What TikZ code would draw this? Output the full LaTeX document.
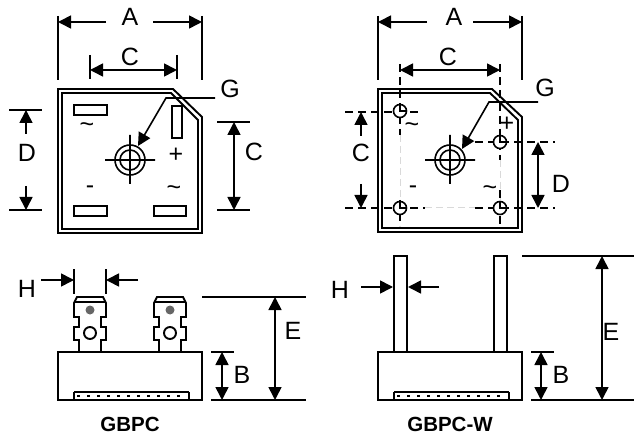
\documentclass[tikz,border=0pt]{standalone}
\usepackage{fontspec}
\setmainfont{Liberation Sans}
\usetikzlibrary{arrows.meta}
\tikzset{
    outline/.style={line width=1.9pt, line join=miter},
    dim/.style={line width=1.6pt},
    dimarrow/.style={dim, {Triangle[length=13pt,width=13pt]}-{Triangle[length=13pt,width=13pt]}},
    dimtip/.style={dim, -{Triangle[length=13pt,width=13pt]}},
    centerline/.style={dim, dash pattern=on 8pt off 5pt},
    faintline/.style={line width=1pt, gray!30, dash pattern=on 7pt off 4pt},
    label/.style={font=\fontsize{25}{25}\selectfont, inner sep=0pt},
    caption/.style={font=\fontsize{20.5}{20.5}\selectfont\bfseries, inner sep=0pt}
}
\begin{document}
\begin{tikzpicture}[x=1pt, y=-1pt]
    \useasboundingbox (0,0) rectangle (634,438);

    % top views
    \draw [outline] (58,89) -- (173,89) -- (202,117) -- (202,233) -- (58,233) -- cycle
        (62,93) -- (171,93) -- (198,120) -- (198,229) -- (62,229) -- cycle;
    \draw [outline] (378,89) -- (492,89) -- (522,117) -- (522,232) -- (378,232) -- cycle
        (382,93) -- (490,93) -- (518,120) -- (518,228) -- (382,228) -- cycle;
    % centre holes
    \foreach \cx in {130,450} {
        \draw [dim] (\cx,160) circle (15) (\cx,160) circle (10)
            (\cx-25,160) -- (\cx+25,160)
            (\cx,135) -- (\cx,184);
    }
    % flat terminals
    \draw [dim] (74,105) rectangle (107,115)
        (172,106) rectangle (182,138)
        (74,206) rectangle (107,216)
        (154,206) rectangle (186,216);
    \node [label] (acleft) at (87,128) {\char`\~};
    \node [label] (plusleft) at (176,155) {+};
    \node [label] (minusleft) at (90,190) {-};
    \node [label] (acright) at (174,191) {\char`\~};

    % wire holes
    \draw [faintline] (400,135) -- (400,200) (500,160) -- (500,200) (425,208) -- (475,208);
    \draw [centerline] (400,64) -- (400,135) (400,200) -- (400,226)
        (500,64) -- (500,160) (500,190) -- (500,226)
        (345,112) -- (421,112)
        (475,142) -- (555,142)
        (345,208) -- (425,208) (475,208) -- (555,208);
    \foreach \hx/\hy in {400/111, 500/142, 400/208, 500/208} {
        \draw [dim, fill=white] (\hx,\hy) circle (6.5);
        \draw [dim] (\hx,\hy-6) -- (\hx,\hy) -- (\hx+6,\hy);
    }
    \node [label] (acwleft) at (412,128) {\char`\~};
    \node [label] (pluswire) at (507,124) {+};
    \node [label] (minuswire) at (413,190) {-};
    \node [label] (acwright) at (490,191) {\char`\~};

    % dimensions of the left top view
    \draw [dim] (58,16) -- (58,80) (202,16) -- (202,80)
        (90,55) -- (90,79) (177,55) -- (177,79)
        (9,110) -- (42,110) (9,210) -- (42,210)
        (217,122) -- (250,122) (217,210) -- (250,210);
    \draw [dimtip] (106,22) -- (58,22);
    \draw [dimtip] (153,22) -- (202,22);
    \draw [dimarrow] (90,70) -- (177,70);
    \draw [dimtip] (26,134) -- (26,110);
    \draw [dimtip] (26,186) -- (26,210);
    \draw [dimarrow] (234,122) -- (234,210);
    \node [label] (topa) at (130,17) {A};
    \node [label] (topc) at (130,57) {C};
    \node [label] (topg) at (230,89) {G};
    \node [label] (topd) at (27,153) {D};
    \node [label] (sidec) at (254,152) {C};
    \draw [dimtip] (215,98) -- (166,98) -- (138,146);

    % dimensions of the right top view
    \draw [dim] (378,16) -- (378,80) (522,16) -- (522,80);
    \draw [dimtip] (427,22) -- (378,22);
    \draw [dimtip] (473,22) -- (522,22);
    \draw [dimarrow] (400,70) -- (500,70);
    \draw [dimtip] (361,136) -- (361,112);
    \draw [dimtip] (361,184) -- (361,208);
    \draw [dimarrow] (538,142) -- (538,208);
    \node [label] (wirea) at (454,17) {A};
    \node [label] (wirec) at (448,57) {C};
    \node [label] (wireg) at (545,88) {G};
    \node [label] (wired) at (361,153) {C};
    \node [label] (sided) at (561,184) {D};
    \draw [dimtip] (538,102) -- (489,102) -- (462,149);

    % side views
    \foreach \bx in {58,378} {
        \draw [outline] (\bx,352) rectangle (\bx+144,400);
        \draw [line width=2.4pt] (\bx+16,392) -- (\bx+131,392);
        \draw [dim] (\bx+16,392) -- (\bx+16,400) (\bx+131,392) -- (\bx+131,400);
        \draw [line width=2pt, dash pattern=on 3pt off 7pt] (\bx+19,395.5) -- (\bx+129,395.5);
    }
    % blade terminals
    \foreach \tx in {74,154} {
        \draw [outline] (\tx+5,352) -- (\tx+5,340) -- (\tx,340) -- (\tx,327) -- (\tx+5,327)
            -- (\tx+5,317) -- (\tx,317) -- (\tx,303) -- (\tx+3,297) -- (\tx+29,297) -- (\tx+32,303)
            -- (\tx+32,317) -- (\tx+27,317) -- (\tx+27,327) -- (\tx+32,327) -- (\tx+32,340)
            -- (\tx+27,340) -- (\tx+27,352)
            (\tx+1,302) -- (\tx+31,302);
        \fill [gray!80!black] (\tx+16,310) circle (4.5);
        \draw [outline] (\tx+16,333) circle (6);
    }
    % straight leads
    \draw [outline] (394,352) -- (394,256) -- (407,256) -- (407,352)
        (494,352) -- (494,256) -- (507,256) -- (507,352);

    % dimensions of the left side view
    \draw [dim] (74,269) -- (74,294) (106,269) -- (106,294)
        (202,297) -- (306,297)
        (211,400) -- (306,400)
        (211,352) -- (234,352);
    \draw [dimtip] (41,280) -- (74,280);
    \draw [dimtip] (138,280) -- (106,280);
    \draw [dimarrow] (275,297) -- (275,400);
    \draw [dimarrow] (222,352) -- (222,400);
    \node [label] (toph) at (27,289) {H};
    \node [label] (tope) at (293,331) {E};
    \node [label] (topb) at (242,375) {B};
    \node [caption] (gbpc) at (130,424) {GBPC};

    % dimensions of the right side view
    \draw [dim] (522,256) -- (634,256)
        (531,400) -- (634,400)
        (531,352) -- (554,352);
    \draw [dimtip] (361,287) -- (393,287);
    \draw [dimtip] (439,287) -- (408,287);
    \draw [dimarrow] (602,256) -- (602,400);
    \draw [dimarrow] (541,352) -- (541,400);
    \node [label] (wireh) at (340,290) {H};
    \node [label] (wiree) at (611,332) {E};
    \node [label] (wireb) at (561,375) {B};
    \node [caption] (gbpcw) at (450,424) {GBPC-W};
\end{tikzpicture}
\end{document}
